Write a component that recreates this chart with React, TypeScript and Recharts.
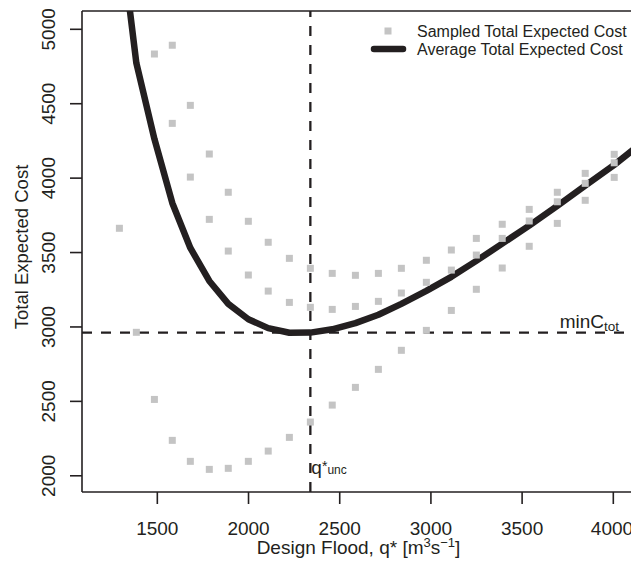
import {
  ComposedChart,
  Line,
  ReferenceLine,
  Scatter,
  XAxis,
  YAxis,
} from 'recharts';

// design flood values where the cost was evaluated
const designFlood = [
  1292, 1385, 1484, 1582, 1681, 1785, 1889, 1999, 2108, 2224, 2339, 2459,
  2586, 2712, 2838, 2975, 3112, 3249, 3391, 3539, 3693, 3846, 4005, 4170,
];

// sampled total expected cost (three samples per design flood)
const sampleHigh = [
  null, null, null, 4893, 4489, 4162, 3905, 3710, 3569, 3461, 3394, 3360,
  3347, 3360, 3394, 3448, 3517, 3595, 3690, 3790, 3905, 4032, 4160, null,
];
const sampleMid = [
  null, null, 4834, 4368, 4007, 3723, 3510, 3349, 3241, 3165, 3132, 3118,
  3138, 3172, 3228, 3300, 3382, 3483, 3595, 3712, 3841, 3965, 4103, null,
];
const sampleLow = [
  3663, 2964, 2513, 2238, 2097, 2043, 2050, 2097, 2166, 2258, 2361, 2475,
  2594, 2715, 2843, 2977, 3111, 3253, 3396, 3542, 3696, 3851, 4005, null,
];

// average total expected cost
const averageCost = [
  5700, 4773, 4263, 3833, 3531, 3309, 3155, 3052, 2992, 2961, 2962, 2984,
  3026, 3082, 3155, 3242, 3337, 3444, 3560, 3681, 3814, 3949, 4089, 4250,
];

const xTicks = [1500, 2000, 2500, 3000, 3500, 4000];
const yTicks = [2000, 2500, 3000, 3500, 4000, 4500, 5000];

const qUnc = 2339;
const minCost = 2962;

const X_DOMAIN: [number, number] = [1087, 4097];
const Y_DOMAIN: [number, number] = [1891, 5123];

const INK = '#231f20';
const GREY = '#c4c4c4';
const FONT = '"Liberation Sans", Arial, Helvetica, sans-serif';

const rows = designFlood.map((x, i) => ({ x, avg: averageCost[i] }));

function points(values: (number | null)[]) {
  return designFlood
    .map((x, i) => ({ x, y: values[i] }))
    .filter((p) => p.y !== null);
}

const SquareDot = (props: any) => {
  const { cx, cy } = props;
  if (cx == null || cy == null) return null;
  return <rect x={cx - 3.5} y={cy - 3.5} width={7} height={7} fill={GREY} />;
};

const YTick = (props: any) => {
  const { x, y, payload } = props;
  const bx = x - 15;
  return (
    <text
      x={bx}
      y={y}
      transform={`rotate(-90, ${bx}, ${y})`}
      textAnchor="middle"
      fontSize={19}
      fill={INK}
      fontFamily={FONT}
    >
      {payload.value}
    </text>
  );
};

export default function App() {
  return (
    <div style={{ position: 'absolute', left: 0, top: 0, width: 631, height: 561, fontFamily: FONT, background: '#fff' }}>
      <ComposedChart
        width={631}
        height={561}
        data={rows}
        margin={{ top: 11, right: 0, bottom: 0, left: 0 }}
      >
        <XAxis
          dataKey="x"
          type="number"
          domain={X_DOMAIN}
          allowDataOverflow
          ticks={xTicks}
          height={69}
          tickSize={12}
          tickMargin={18}
          axisLine={{ stroke: INK, strokeWidth: 1.6 }}
          tickLine={{ stroke: INK, strokeWidth: 1.6 }}
          tick={{ fontSize: 19, fill: INK, fontFamily: FONT }}
          label={{
            content: (p: any) => {
              const vb = p.viewBox || { x: 82, width: 549, y: 492 };
              const cx = vb.x + vb.width / 2 + 2;
              return (
                <text x={cx} y={554} textAnchor="middle" fontSize={19} fill={INK} fontFamily={FONT}>
                  Design Flood, q* [m
                  <tspan fontSize={13} dy={-7}>3</tspan>
                  <tspan dy={7}>s</tspan>
                  <tspan fontSize={13} dy={-7}>−1</tspan>
                  <tspan dy={7}>]</tspan>
                </text>
              );
            },
          }}
        />
        <YAxis
          type="number"
          domain={Y_DOMAIN}
          allowDataOverflow
          ticks={yTicks}
          width={82}
          tickSize={12}
          tickMargin={0}
          axisLine={{ stroke: INK, strokeWidth: 1.6 }}
          tickLine={{ stroke: INK, strokeWidth: 1.6 }}
          tick={<YTick />}
          label={{
            content: () => (
              <text
                x={28}
                y={247}
                transform="rotate(-90, 28, 247)"
                textAnchor="middle"
                fontSize={18.5}
                fill={INK}
                fontFamily={FONT}
              >
                Total Expected Cost
              </text>
            ),
          }}
        />
        <ReferenceLine y={Y_DOMAIN[1]} stroke={INK} strokeWidth={1.6} />
        <ReferenceLine
          y={minCost}
          stroke={INK}
          strokeWidth={2.3}
          strokeDasharray="10 9"
          label={{
            content: (p: any) => {
              const vb = p.viewBox || { x: 82, y: 332, width: 549 };
              return (
                <text x={vb.x + vb.width - 12} y={vb.y - 5} textAnchor="end" fontSize={19} fill={INK} fontFamily={FONT}>
                  minC
                  <tspan fontSize={13.5} dy={3}>tot</tspan>
                </text>
              );
            },
          }}
        />
        <ReferenceLine
          x={qUnc}
          stroke={INK}
          strokeWidth={2.3}
          strokeDasharray="10 9"
          label={{
            content: (p: any) => {
              const vb = p.viewBox || { x: 310, y: 11, height: 481 };
              return (
                <text x={vb.x + 1} y={vb.y + vb.height - 18} fontSize={19} fill={INK} fontFamily={FONT}>
                  q
                  <tspan fontSize={14} dy={-3}>*</tspan>
                  <tspan fontSize={12} dy={3}>unc</tspan>
                </text>
              );
            },
          }}
        />
        <Scatter data={points(sampleHigh)} dataKey="y" shape={SquareDot} isAnimationActive={false} />
        <Scatter data={points(sampleMid)} dataKey="y" shape={SquareDot} isAnimationActive={false} />
        <Scatter data={points(sampleLow)} dataKey="y" shape={SquareDot} isAnimationActive={false} />
        <Line
          type="linear"
          dataKey="avg"
          stroke={INK}
          strokeWidth={6.5}
          strokeLinejoin="round"
          dot={false}
          activeDot={false}
          isAnimationActive={false}
        />
      </ComposedChart>

      {/* legend, top right inside the plot box */}
      <svg width={631} height={70} style={{ position: 'absolute', left: 0, top: 0, pointerEvents: 'none' }}>
        <rect x={384.5} y={27.5} width={7} height={7} fill={GREY} />
        <text x={417} y={31} dominantBaseline="central" fontSize={16} fill={INK} fontFamily={FONT}>
          Sampled Total Expected Cost
        </text>
        <line x1={374} y1={49} x2={403} y2={49} stroke={INK} strokeWidth={6.5} strokeLinecap="round" />
        <text x={417} y={49} dominantBaseline="central" fontSize={16} fill={INK} fontFamily={FONT}>
          Average Total Expected Cost
        </text>
      </svg>
    </div>
  );
}
